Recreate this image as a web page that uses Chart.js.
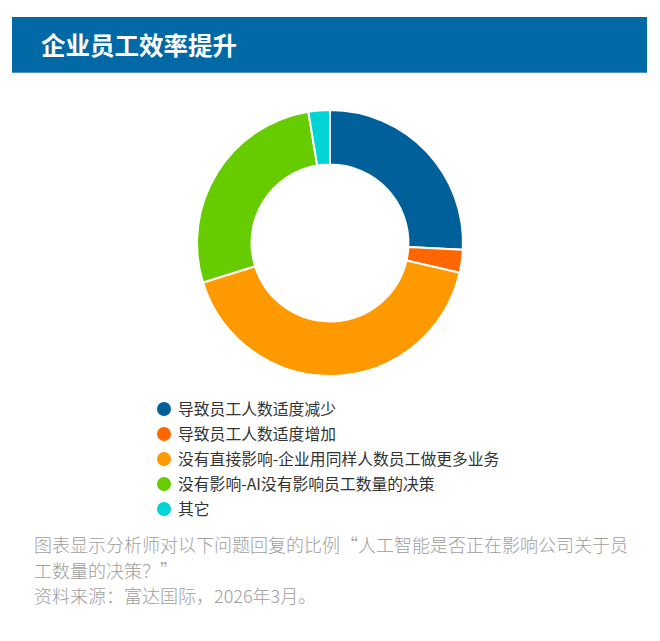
<!DOCTYPE html>
<html>
<head>
<meta charset="utf-8">
<script src="https://cdn.jsdelivr.net/npm/chart.js@4"></script>
<style>
    html, body { margin: 0; padding: 0; background: #fff; }
    body { width: 660px; height: 641px; position: relative; overflow: hidden;
           font-family: "Noto Sans CJK SC", "Noto Sans", sans-serif; }
    .title-bar { position: absolute; left: 12px; top: 17px; width: 635px; height: 55px;
                 background: #0069a6; border-bottom: 1px solid #4a93c6; }
    .title-bar h1 { margin: 0; position: absolute; left: 29px; top: 0; line-height: 55px;
                    font-size: 24.5px; font-weight: 700; color: #fff; }
    .chart-box { position: absolute; left: 0; top: 109px; width: 660px; height: 268px; }
    .legend { position: absolute; left: 157px; top: 396px; margin: 0; padding: 0; list-style: none; }
    .legend li { height: 25px; line-height: 25px; font-size: 15.8px; color: #333; white-space: nowrap; }
    .legend .dot { display: inline-block; width: 14px; height: 14px; border-radius: 50%;
                   vertical-align: middle; margin-right: 7px; position: relative; top: -2px; }
    .note { position: absolute; left: 34px; top: 532px; width: 600px; font-size: 18px;
            line-height: 25.5px; color: #9e9e9e; font-weight: 300; }
</style>
</head>
<body>
<div class="title-bar"><h1>企业员工效率提升</h1></div>
<div class="chart-box"><canvas id="shareChart"></canvas></div>
<ul class="legend" id="legend"></ul>
<div class="note">图表显示分析师对以下问题回复的比例“人工智能是否正在影响公司关于员工数量的决策？”<br>资料来源：富达国际，2026年3月。</div>

<script>
// 回复类别
const categories = [
    '导致员工人数适度减少',
    '导致员工人数适度增加',
    '没有直接影响-企业用同样人数员工做更多业务',
    '没有影响-AI没有影响员工数量的决策',
    '其它'
];

// 各类别占比（%）
const shares = [25.8, 2.8, 41.6, 27.2, 2.6];

const sliceColors = ['#00609a', '#ff6600', '#ff9900', '#66cc00', '#00d4d4'];

document.addEventListener('DOMContentLoaded', function() {
    initShareChart();
});

function initShareChart() {
    const ctx = document.getElementById('shareChart');
    new Chart(ctx, {
        type: 'doughnut',
        data: {
            labels: categories,
            datasets: [{
                data: shares,
                backgroundColor: sliceColors,
                borderColor: '#ffffff',
                borderWidth: 2
            }]
        },
        options: {
            responsive: true,
            maintainAspectRatio: false,
            animation: false,
            cutout: '59%',
            layout: { padding: 0 },
            plugins: {
                legend: { display: false },
                tooltip: {
                    callbacks: {
                        label: function(context) {
                            return context.label + ': ' + context.raw + '%';
                        }
                    }
                }
            }
        }
    });

    // 图例
    const legend = document.getElementById('legend');
    categories.forEach(function(name, i) {
        const li = document.createElement('li');
        const dot = document.createElement('span');
        dot.className = 'dot';
        dot.style.background = sliceColors[i];
        li.appendChild(dot);
        li.appendChild(document.createTextNode(name));
        legend.appendChild(li);
    });
}
</script>
</body>
</html>
